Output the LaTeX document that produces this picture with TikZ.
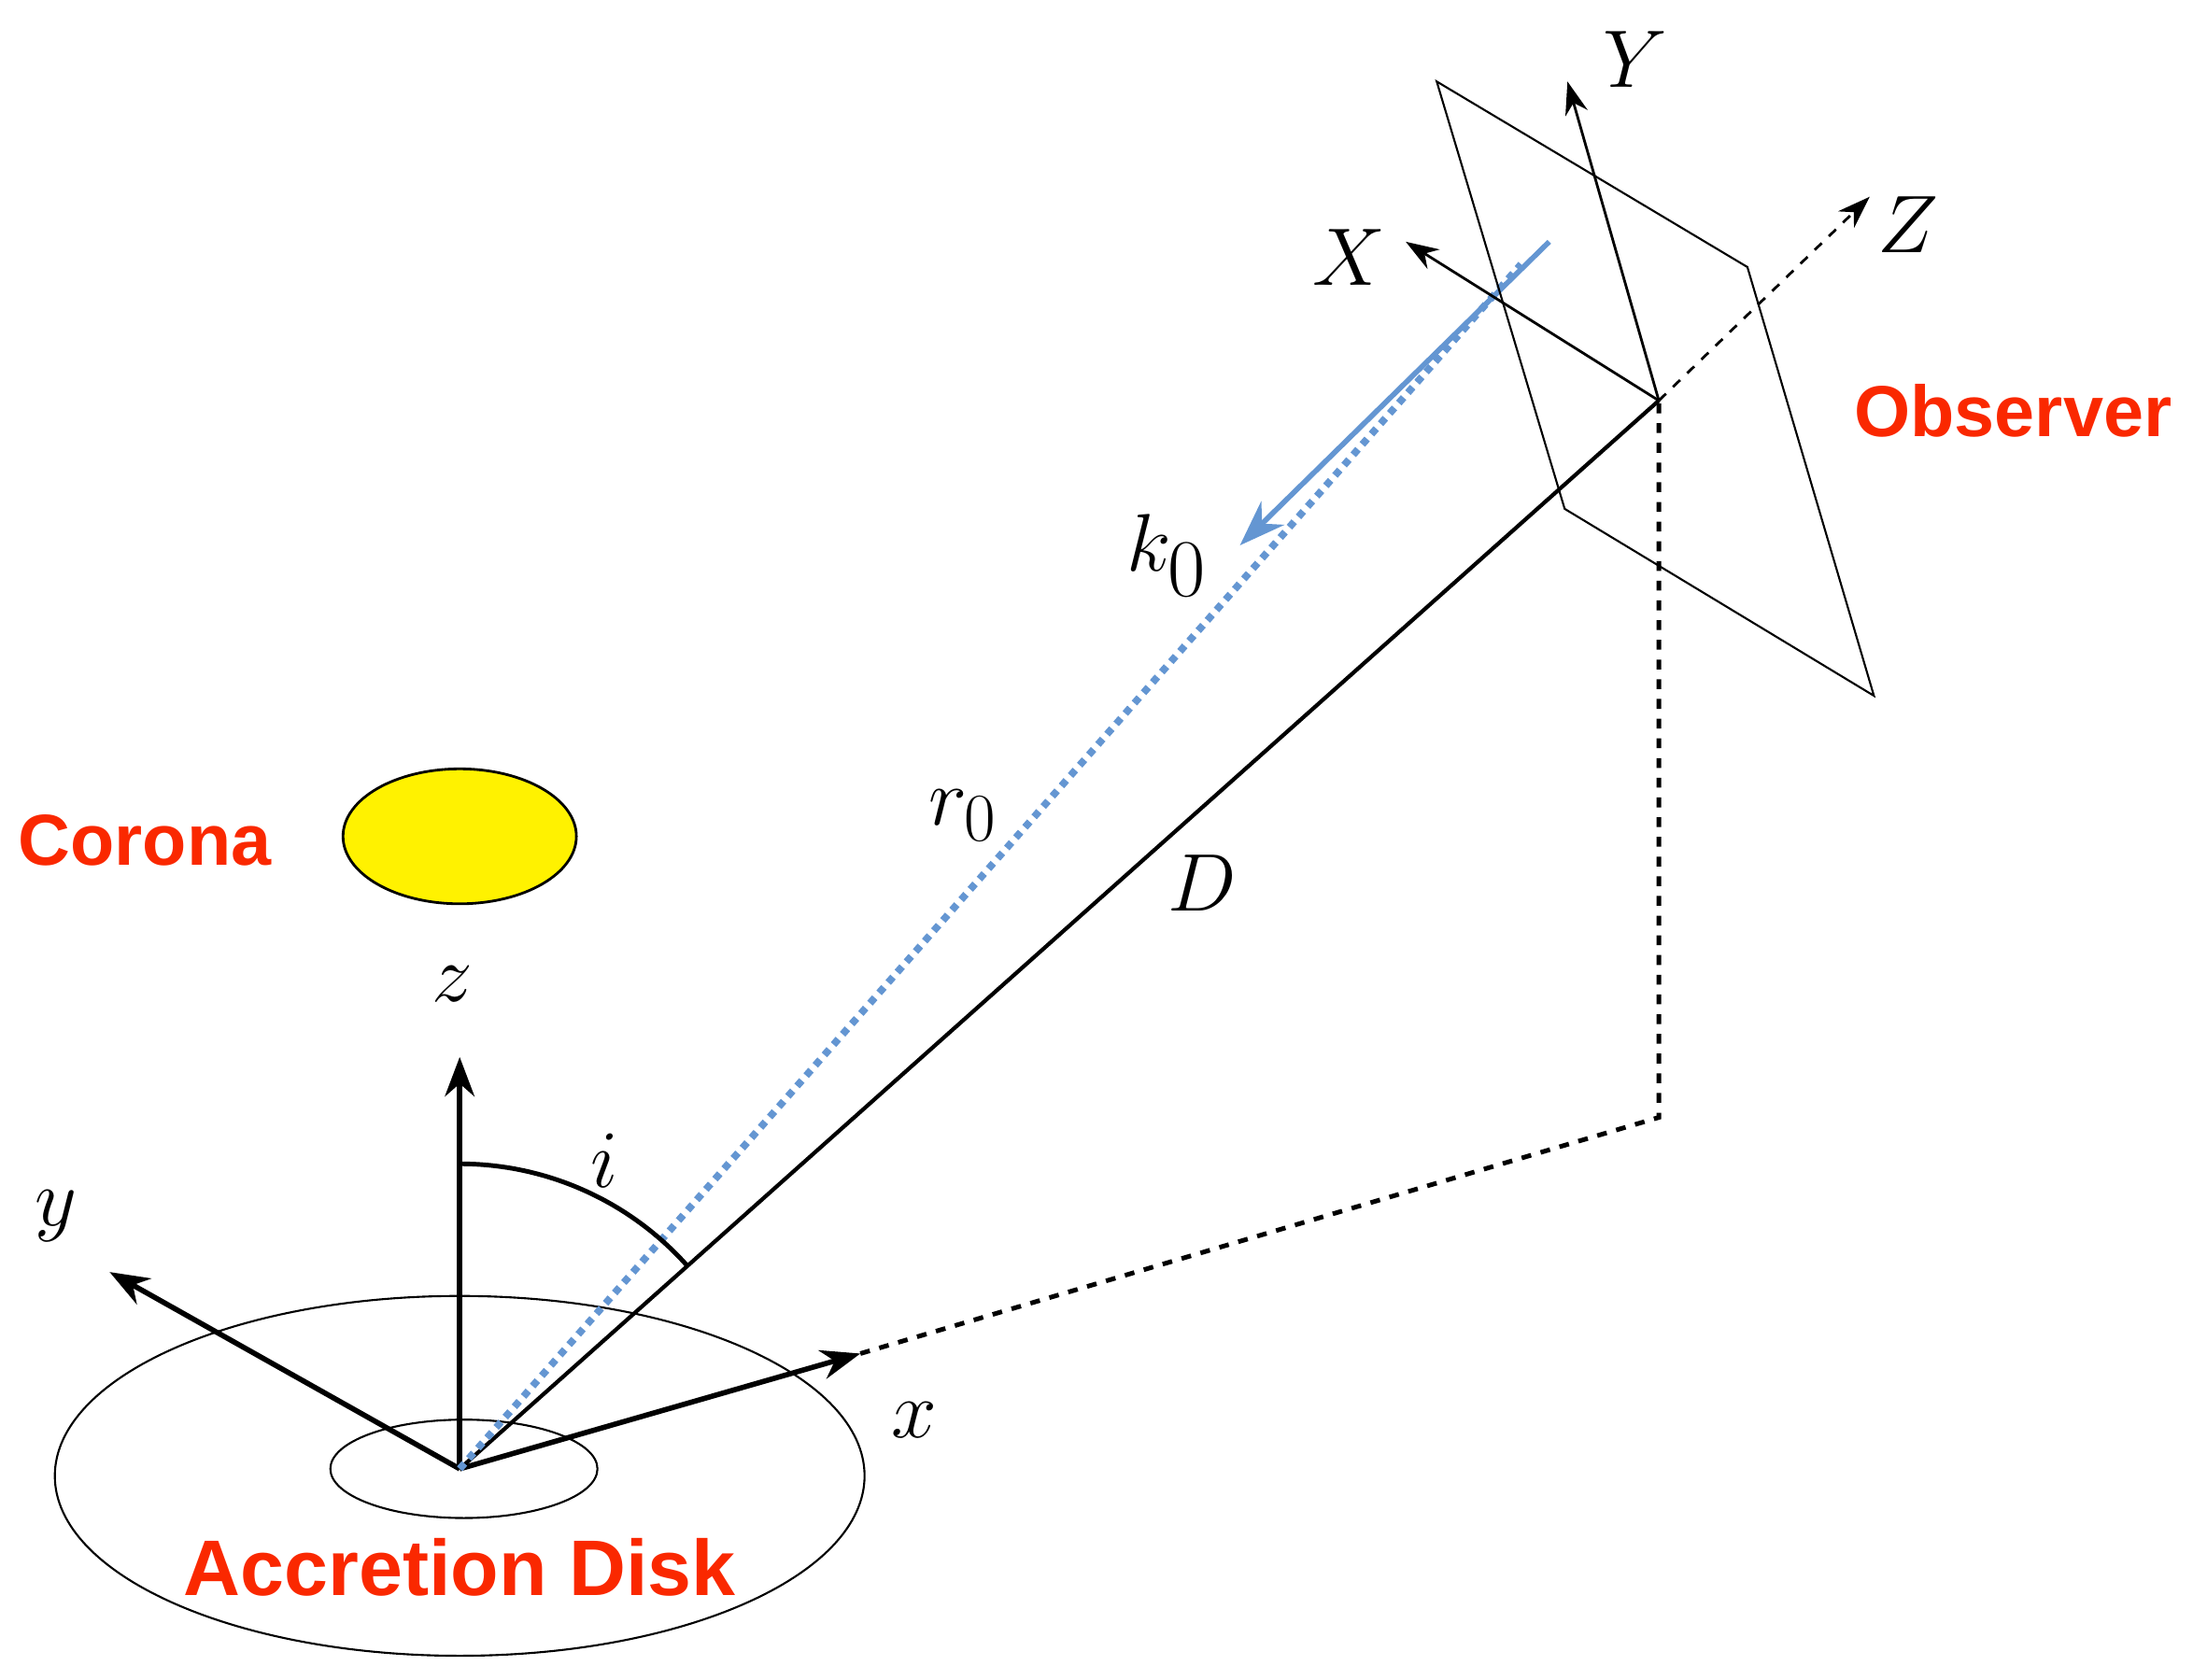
\documentclass[tikz,border=0pt]{standalone}
\usepackage{fontspec}
\newfontfamily\lbl{Liberation Sans}
\usetikzlibrary{arrows.meta,calc}
\definecolor{lblred}{RGB}{250,40,0}
\definecolor{raycol}{RGB}{100,150,210}
\tikzset{
  redlabel/.style={text=lblred,font=\lbl\bfseries\fontsize{22}{26}\selectfont},
  mathlabel/.style={font=\fontsize{30}{34}\selectfont},
  axis/.style={line width=1.6pt,-{Stealth[length=12pt,width=9pt]}},
  thinaxis/.style={line width=0.8pt,-{Stealth[length=10pt,width=7pt]}}
}
\begin{document}
\begin{tikzpicture}[x=0.01505cm,y=-0.01505cm]
		\useasboundingbox (0,0) rectangle (1560,1195);
		\coordinate (O) at (327,1045);
		\coordinate (obs) at (1180,285);
		\coordinate (corner) at (1180,795);
		% disk and corona
		\draw[line width=0.6pt] (327,1050) ellipse (288 and 128);
		\draw[line width=0.6pt] (330,1045) ellipse (95 and 35);
		\draw[line width=0.8pt,fill=yellow] (327,595) ellipse (83 and 48);
		\node[redlabel] (corona) at (103,598) {Corona};
		\node[redlabel,font=\lbl\bfseries\fontsize{24}{28}\selectfont] (disk) at (327,1115) {Accretion Disk};
		\node[redlabel] (observer) at (1432,292) {Observer};
		% disk frame
		\coordinate (xend) at (612,963);
		\draw[axis] (O) -- (327,752) coordinate (zend);
		\draw[axis] (O) -- (78,905) coordinate (yend);
		\draw[axis] (O) -- (xend);
		\node[mathlabel] (zl) at (322,700) {$z$};
		\node[mathlabel] (yl) at (40,865) {$y$};
		\node[mathlabel] (xl) at (650,1010) {$x$};
		\draw[line width=1.4pt,dashed] (xend) -- (corner) -- (obs);
		\draw[line width=1.2pt] (O) -- (obs);
		\node[mathlabel] (Dl) at (855,628) {$D$};
		\draw[raycol,line width=2.2pt,dotted] (O) -- (1082,188);
		\draw[raycol,line width=1.6pt,-{Stealth[length=14pt,width=10pt]}] (1102,172) -- (882,388);
		\node[mathlabel] (rl) at (685,580) {$r_0$};
		\node[font=\fontsize{38}{40}\selectfont] (kl) at (830,395) {$k_0$};
		% inclination angle
		\draw[line width=1.4pt] (327,828) arc[start angle=-90,end angle=-41.4,radius=217];
		\node[mathlabel] (il) at (430,826) {$i$};
		% observer plane
		\draw[line width=0.6pt] (1022,58) -- (1243,190) -- (1333,495) -- (1113,362) -- cycle;
		\draw[thinaxis] (obs) -- (1000,172);
		\draw[thinaxis] (obs) -- (1115,58);
		\draw[thinaxis,dashed] (obs) -- (1330,140);
		\node[mathlabel] (Xl) at (960,183) {$X$};
		\node[mathlabel] (Yl) at (1163,42) {$Y$};
		\node[mathlabel] (Zl) at (1357,160) {$Z$};
\end{tikzpicture}
\end{document}
